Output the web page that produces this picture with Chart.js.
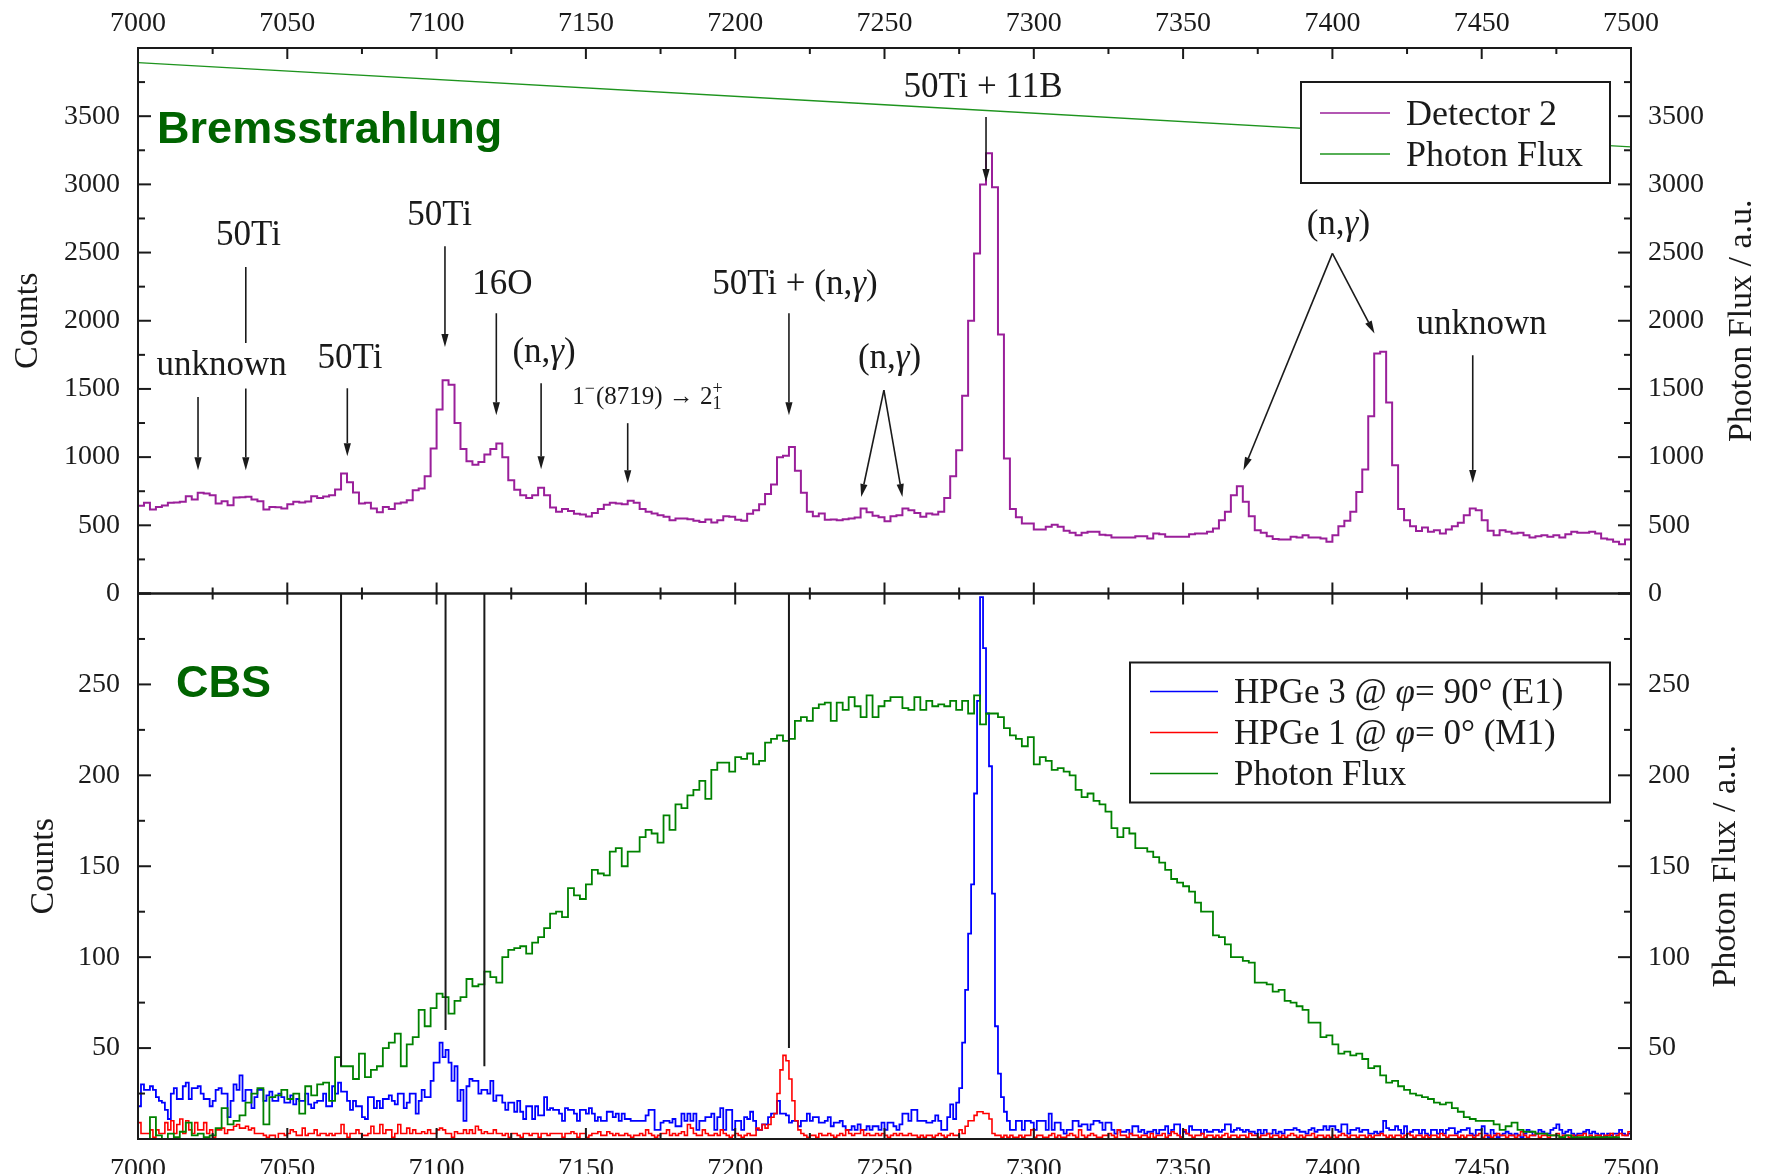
<!DOCTYPE html>
<html><head><meta charset="utf-8">
<script src="https://cdn.jsdelivr.net/npm/chart.js@4.4.1/dist/chart.umd.min.js"></script>
<style>html,body{margin:0;padding:0;background:#fff;overflow:hidden}canvas{display:block}</style>
</head><body>
<canvas id="c" width="1767" height="1174"></canvas>
<script>
// ---------- axes ----------
const E_MIN = 7000, E_MAX = 7500;
const X_TICKS = [7000,7050,7100,7150,7200,7250,7300,7350,7400,7450,7500];
const TOP_Y_TICKS = [0,500,1000,1500,2000,2500,3000,3500];
const BOT_Y_TICKS = [50,100,150,200,250];
const TOP_Y_MAX = 4000, BOT_Y_MAX = 300;

// ---------- Bremsstrahlung panel ----------
const DET2_BIN = 2; // keV per bin
const detector2 = [
643,665,616,635,645,665,668,672,714,690,
738,733,720,660,677,648,704,706,709,690,
677,616,635,632,623,655,672,668,675,714,
700,712,721,763,880,815,740,660,665,623,
595,635,620,660,668,684,758,770,860,1063,
1350,1564,1530,1250,1060,970,945,965,1020,1060,
1100,1000,830,760,720,700,720,775,720,630,
600,620,605,585,580,565,590,620,650,665,
660,655,680,665,620,599,587,574,562,538,
550,550,545,533,525,543,520,538,567,562,
540,533,585,611,655,730,800,1000,1010,1075,
900,738,599,567,587,540,543,538,545,550,
557,623,595,570,560,530,567,574,623,611,
590,562,587,580,599,700,860,1050,1450,2000,
2494,3000,3229,2979,1900,990,620,560,513,513,
469,469,490,505,489,460,445,428,445,452,
452,430,428,411,411,411,411,420,420,403,
440,435,416,416,416,416,435,440,440,452,
477,538,600,721,787,672,567,464,445,420,
400,396,396,416,411,428,411,411,403,379,
428,494,533,599,745,909,1300,1760,1772,1400,
941,620,538,494,459,484,452,464,440,469,
494,518,574,623,610,538,460,428,464,452,
440,445,428,411,420,428,416,428,411,435,
452,445,445,452,440,403,396,379,362,396];
const fluxTopEnergy = [7000, 7250, 7500];
const fluxTopValue  = [3893, 3584, 3275];

// ---------- CBS panel ----------
const CBS_BIN = 1; // keV per bin
const hpge3 = [
18,30,27,27,29,27,23,21,20,16,
11,25,28,22,22,29,31,22,28,28,
29,25,22,22,18,21,27,28,25,25,
12,21,30,27,35,21,27,27,17,23,
27,27,21,24,26,21,21,25,23,20,
20,24,19,22,21,21,25,19,17,20,
21,21,25,18,18,29,25,31,26,26,
21,16,21,18,18,12,11,23,23,17,
21,17,22,22,24,21,19,25,25,17,
20,25,25,14,21,27,23,23,32,42,
42,53,45,49,42,32,40,21,27,10,
29,33,32,32,25,27,27,25,32,21,
24,24,20,16,20,20,15,21,15,11,
18,18,11,18,13,13,23,16,17,16,
16,14,10,17,16,16,14,10,16,16,
14,17,14,10,12,10,10,15,15,12,
14,10,14,11,11,10,10,10,10,10,
13,16,16,5,5,9,10,10,9,11,
7,7,14,10,14,10,14,5,10,10,
12,12,14,5,12,17,5,16,16,5,
10,10,5,12,11,15,10,5,5,8,
8,12,14,14,21,14,14,13,9,10,
10,7,10,10,14,10,12,12,9,9,
10,12,7,9,9,10,7,5,5,7,
5,8,5,5,7,5,7,7,5,9,
5,9,9,7,5,8,14,14,10,16,
16,10,10,10,9,9,10,13,10,5,
5,12,19,11,20,28,53,82,113,140,
190,241,298,270,234,205,135,62,36,23,
15,10,5,5,10,10,5,10,10,9,
5,10,10,10,5,14,5,9,9,5,
3,5,5,10,10,7,8,8,5,8,
10,10,9,5,9,9,5,3,5,4,
4,5,3,7,7,4,5,3,4,4,
5,3,5,5,7,3,5,8,8,1,
4,3,7,5,5,5,3,5,4,4,
5,5,4,5,8,8,4,5,6,5,
4,5,4,4,3,5,3,5,3,3,
5,3,4,3,5,5,5,6,5,4,
4,3,5,6,4,5,5,7,5,7,
7,5,4,8,8,3,5,5,6,4,
5,5,3,3,4,3,4,10,6,5,
5,7,5,3,7,3,4,5,5,3,
5,3,2,5,5,3,5,3,5,6,
6,3,4,5,5,6,3,2,5,5,
7,3,1,5,3,1,2,3,4,3,
2,3,2,1,3,5,4,2,3,5,
4,3,3,5,6,8,5,3,4,5,
3,2,3,3,4,5,3,4,3,2,
3,1,3,2,3,3,5,3,2,3];
const hpge1 = [
9,3,3,3,5,1,5,3,3,9,
5,10,3,8,11,3,10,5,3,9,
5,5,9,3,5,1,5,5,6,3,
5,5,7,8,6,6,7,5,6,3,
3,3,2,1,2,2,0,3,3,2,
3,5,4,2,2,6,2,3,3,5,
2,3,3,2,3,2,3,3,8,3,
1,3,3,5,3,2,2,3,7,3,
3,8,3,5,5,1,3,8,3,3,
6,3,5,3,3,4,3,5,3,3,
5,6,5,3,3,1,4,3,3,5,
3,5,3,7,5,3,4,3,3,5,
3,3,2,3,1,3,3,2,1,3,
3,2,3,3,1,3,3,2,3,3,
3,3,1,3,3,4,3,1,3,3,
1,2,3,3,4,2,2,4,3,2,
3,2,2,3,2,1,2,2,3,2,
5,3,2,1,2,3,3,5,2,3,
2,3,4,2,8,6,3,2,2,5,
3,2,2,3,2,5,3,2,1,2,
3,2,1,2,3,2,2,6,5,8,
6,8,12,14,25,38,46,43,33,21,
10,5,3,2,1,2,2,1,3,2,
2,3,2,1,2,3,2,5,3,2,
3,3,5,2,3,2,2,3,2,3,
2,1,2,3,2,3,2,2,3,2,
2,1,2,1,2,2,1,2,3,2,
1,2,3,2,2,5,3,7,10,10,
13,15,15,14,14,11,3,2,2,1,
2,1,2,1,1,2,1,2,2,5,
1,2,2,1,1,2,3,1,2,1,
1,2,3,2,1,5,2,1,2,3,
2,1,1,2,2,3,2,1,5,2,
2,1,3,2,2,1,2,2,1,3,
1,2,2,3,1,2,4,3,2,1,
5,3,2,1,2,2,3,1,2,2,
1,2,1,2,3,1,2,2,1,2,
2,1,3,2,2,1,2,2,3,1,
2,2,1,2,1,2,3,2,1,2,
1,2,2,3,1,2,2,1,2,1,
2,1,2,3,2,1,2,2,1,2,
2,1,2,1,2,2,3,2,1,2,
1,2,2,1,2,3,2,1,2,2,
1,2,1,2,2,1,3,2,1,2,
2,2,1,2,1,2,2,1,2,3,
1,2,2,1,2,3,2,2,1,2,
2,1,2,4,2,1,2,2,3,1,
2,2,1,2,2,3,1,2,2,1,
2,1,2,2,3,1,2,1,2,2,
1,2,2,3,1,2,3,2,2,4];
const FLUX_BIN = 2; // keV per bin
const fluxCBS = [
0,0,12,2,0,3,1,4,9,2,
3,1,2,6,17,8,10,13,20,25,
28,8,23,24,27,22,25,14,29,24,
30,31,21,45,40,40,33,47,34,38,
40,50,53,58,40,52,56,71,62,72,
80,78,69,76,78,88,84,85,92,89,
86,100,104,105,106,102,108,111,116,124,
125,122,138,134,132,140,148,146,145,158,
160,150,158,158,166,170,168,163,178,170,
184,182,189,192,197,187,203,207,207,202,
210,209,212,206,208,218,220,222,219,220,
230,232,230,237,239,240,230,240,236,243,
238,232,244,232,238,241,243,243,237,236,
243,236,241,238,239,238,241,236,241,234,
244,228,234,234,232,226,222,220,216,221,
206,210,208,203,204,202,200,192,188,190,
186,184,180,171,166,171,168,160,160,158,
155,152,148,143,141,139,136,130,125,125,
112,111,107,100,100,98,97,86,86,85,
81,82,76,75,73,71,64,64,56,57,
52,47,48,46,47,44,39,40,35,31,
32,29,27,25,24,23,22,20,19,20,
17,15,12,11,10,10,10,8,5,7,
9,5,4,4,3,3,2,2,1,2,
1,1,1,1,1,1,1,1,0,0];

// ---------- annotations (energy keV, counts) ----------
const labelText   = ['unknown','50Ti','50Ti','50Ti','16O','(n,γ)','1^{−}(8719) → 2_{1}^{+}','50Ti + (n,γ)','(n,γ)','50Ti + 11B','(n,γ)','unknown'];
const labelEnergy = [7028, 7037, 7071, 7101, 7122, 7136, 7170.8, 7220, 7251.7, 7283, 7402, 7450];
const labelCounts = [1600, 2554, 1650, 2701, 2199, 1698, 1390, 2199, 1650, 3641, 2639, 1906];
const labelSize   = [35, 35, 35, 35, 35, 35, 25, 35, 35, 35, 35, 35];
const arrowFrom = [[7020.1,1441],[7036.1,1503],[7070.1,1505],[7102.8,2546],[7120,2055],[7135,1541],[7164,1249],[7218,2055],[7249.8,1491],[7249.8,1491],[7284,3494],[7400,2494],[7400,2494],[7447,1747]];
const arrowTo   = [[7020.1,904],[7036.1,904],[7070.1,1007],[7102.8,1808],[7120,1307],[7135,911],[7164,809],[7218,1307],[7242.2,708],[7256,708],[7284,3018],[7370.2,904],[7414.1,1906],[7447,811]];
const plainFrom = [[7036.1,2394]];
const plainTo   = [[7036.1,1837]];
const cbsLineEnergy = [7068, 7103, 7116, 7218];
const cbsLineEnd    = [40, 60, 40, 50];
const panelTitles = ['Bremsstrahlung', 'CBS'];
const panelTitleEnergy = [7006.4, 7012.7];
const panelTitleCounts = [3301, 243];

// ---------- helpers ----------
const SERIF = '"Liberation Serif","Times New Roman",serif';
const SANS = '"Liberation Sans",Arial,sans-serif';
const INK = '#1a1a1a';

function histPoints(values, start, width) {
  const pts = values.map((v, i) => ({x: start + i * width, y: v}));
  pts.push({x: start + values.length * width, y: values[values.length - 1]});
  return pts;
}
function seg(ctx, x1, y1, x2, y2) { ctx.beginPath(); ctx.moveTo(x1, y1); ctx.lineTo(x2, y2); ctx.stroke(); }
function arrow(ctx, x1, y1, x2, y2) {
  const a = Math.atan2(y2 - y1, x2 - x1), L = 13, W = 3.6;
  const bx = x2 - L * Math.cos(a), by = y2 - L * Math.sin(a);
  seg(ctx, x1, y1, bx, by);
  ctx.beginPath();
  ctx.moveTo(x2, y2);
  ctx.lineTo(bx + W * Math.sin(a), by - W * Math.cos(a));
  ctx.lineTo(bx - W * Math.sin(a), by + W * Math.cos(a));
  ctx.closePath(); ctx.fill();
}
function parseRich(s) {
  const out = []; let i = 0, buf = '';
  while (i < s.length) {
    const ch = s[i];
    if ((ch === '^' || ch === '_') && s[i + 1] === '{') {
      if (buf) { out.push({t: buf}); buf = ''; }
      const end = s.indexOf('}', i);
      const content = s.slice(i + 2, end);
      const kind = ch === '^' ? 'sup' : 'sub';
      const prev = out[out.length - 1];
      if (prev && prev.t === undefined && prev[kind] === undefined) prev[kind] = content;
      else { const o = {}; o[kind] = content; out.push(o); }
      i = end + 1;
    } else { buf += ch; i++; }
  }
  if (buf) out.push({t: buf});
  return out;
}
function drawRich(ctx, s, x, y, size, align) {
  const runs = [];
  const small = Math.round(size * 0.7);
  for (const tk of parseRich(s)) {
    if (tk.t !== undefined) {
      for (const part of tk.t.split(/([γφ])/)) {
        if (!part) continue;
        runs.push({text: part, font: (/[γφ]/.test(part) ? 'italic ' : '') + size + 'px ' + SERIF});
      }
    } else {
      const items = [];
      if (tk.sup !== undefined) items.push({text: tk.sup, font: small + 'px ' + SERIF, dy: -size * 0.4});
      if (tk.sub !== undefined) items.push({text: tk.sub, font: small + 'px ' + SERIF, dy: size * 0.22});
      runs.push({items});
    }
  }
  let total = 0;
  for (const r of runs) {
    if (r.items) r.w = Math.max(...r.items.map(it => { ctx.font = it.font; return ctx.measureText(it.text).width; })) + 1;
    else { ctx.font = r.font; r.w = ctx.measureText(r.text).width; }
    total += r.w;
  }
  let cx = align === 'center' ? x - total / 2 : x;
  ctx.textAlign = 'left'; ctx.textBaseline = 'alphabetic';
  for (const r of runs) {
    if (r.items) for (const it of r.items) { ctx.font = it.font; ctx.fillText(it.text, cx, y + it.dy); }
    else { ctx.font = r.font; ctx.fillText(r.text, cx, y); }
    cx += r.w;
  }
}
function drawLegend(ctx, chart, idxs, left, top, w, h, lineX0, lineX1, textX, rowY0, rowDy, size) {
  ctx.fillStyle = '#fff'; ctx.fillRect(left, top, w, h);
  ctx.strokeStyle = INK; ctx.lineWidth = 2; ctx.strokeRect(left, top, w, h);
  idxs.forEach((di, k) => {
    const ds = chart.data.datasets[di];
    const yy = top + rowY0 + k * rowDy;
    ctx.strokeStyle = ds.borderColor; ctx.lineWidth = 1.6;
    seg(ctx, left + lineX0, yy, left + lineX1, yy);
    ctx.fillStyle = INK;
    drawRich(ctx, ds.label, left + textX, yy + size * 0.33, size, 'left');
  });
}

const overlay = {
  id: 'overlay',
  afterDatasetsDraw(chart) {
    const ctx = chart.ctx, sc = chart.scales;
    const x = sc.x, yT = sc.yTop, yB = sc.yBot;
    const L = x.left, R = x.right;
    ctx.save();
    // CBS reference lines
    ctx.strokeStyle = INK; ctx.lineWidth = 2;
    cbsLineEnergy.forEach((e, i) => {
      const px = x.getPixelForValue(e);
      seg(ctx, px, yB.getPixelForValue(BOT_Y_MAX), px, yB.getPixelForValue(cbsLineEnd[i]));
    });
    // arrows
    ctx.lineWidth = 1.6; ctx.fillStyle = INK; ctx.strokeStyle = INK;
    arrowFrom.forEach((f, i) => {
      const t = arrowTo[i];
      arrow(ctx, x.getPixelForValue(f[0]), yT.getPixelForValue(f[1]), x.getPixelForValue(t[0]), yT.getPixelForValue(t[1]));
    });
    plainFrom.forEach((f, i) => {
      const t = plainTo[i];
      seg(ctx, x.getPixelForValue(f[0]), yT.getPixelForValue(f[1]), x.getPixelForValue(t[0]), yT.getPixelForValue(t[1]));
    });
    // labels
    ctx.fillStyle = INK;
    labelText.forEach((s, i) => drawRich(ctx, s, x.getPixelForValue(labelEnergy[i]), yT.getPixelForValue(labelCounts[i]), labelSize[i], 'center'));
    // panel titles
    ctx.fillStyle = '#006400'; ctx.font = 'bold 45px ' + SANS; ctx.textAlign = 'left'; ctx.textBaseline = 'alphabetic';
    ctx.fillText(panelTitles[0], x.getPixelForValue(panelTitleEnergy[0]), yT.getPixelForValue(panelTitleCounts[0]));
    ctx.fillText(panelTitles[1], x.getPixelForValue(panelTitleEnergy[1]), yB.getPixelForValue(panelTitleCounts[1]));
    // legends
    drawLegend(ctx, chart, [0, 1], R - 330, yT.top + 34, 309, 101, 19, 89, 105, 31, 41, 36);
    drawLegend(ctx, chart, [2, 3, 4], R - 501, yB.top + 69, 480, 140, 20, 88, 104, 29, 41, 35);
    // frames
    ctx.strokeStyle = INK; ctx.lineWidth = 2;
    ctx.strokeRect(L, yT.top, R - L, yT.bottom - yT.top);
    ctx.strokeRect(L, yB.top, R - L, yB.bottom - yB.top);
    // x ticks
    const xStep = X_TICKS[1] - X_TICKS[0];
    for (let v = X_TICKS[0]; v <= X_TICKS[X_TICKS.length - 1]; v += xStep / 2) {
      const px = x.getPixelForValue(v);
      const len = ((v - X_TICKS[0]) % xStep === 0) ? 11 : 6;
      seg(ctx, px, yT.top, px, yT.top + len);
      seg(ctx, px, yT.bottom - len, px, yT.bottom + len);
      seg(ctx, px, yB.bottom - len, px, yB.bottom);
    }
    // y ticks
    const yTicks = (scale, arr, max) => {
      const step = arr[1] - arr[0];
      for (let v = 0; v <= max; v += step / 2) {
        const py = scale.getPixelForValue(v);
        const len = (v % step === 0) ? 13 : 7;
        seg(ctx, L, py, L + len, py);
        seg(ctx, R - len, py, R, py);
      }
    };
    yTicks(yT, TOP_Y_TICKS, TOP_Y_MAX);
    yTicks(yB, BOT_Y_TICKS, BOT_Y_MAX);
    // right axis titles (reading bottom to top)
    ctx.fillStyle = INK; ctx.font = '34px ' + SERIF; ctx.textAlign = 'center'; ctx.textBaseline = 'middle';
    [[yT, 111], [yB, 95]].forEach(([s, dx]) => {
      ctx.save();
      ctx.translate(R + dx, (s.top + s.bottom) / 2);
      ctx.rotate(-Math.PI / 2);
      ctx.fillText('Photon Flux / a.u.', 0, 0);
      ctx.restore();
    });
    ctx.restore();
  }
};

const tickFont = {family: SERIF, size: 28};
function xAxis(pos, h, pad) {
  return {
    type: 'linear', position: pos, min: E_MIN, max: E_MAX,
    grid: {display: false, drawTicks: false}, border: {display: false},
    afterBuildTicks: s => { s.ticks = X_TICKS.map(v => ({value: v})); },
    afterFit: s => { s.height = h; },
    ticks: {font: tickFont, color: INK, padding: pad, maxRotation: 0, autoSkip: false, callback: v => String(v)}
  };
}
function yAxis(pos, stack, max, arr, w, pad, title, titlePad) {
  return {
    type: 'linear', position: pos, stack: stack, stackWeight: 1, min: 0, max: max,
    grid: {display: false, drawTicks: false}, border: {display: false},
    afterBuildTicks: s => { s.ticks = arr.map(v => ({value: v})); },
    afterFit: s => { s.width = w; },
    ticks: {font: tickFont, color: INK, padding: pad, callback: v => String(v)},
    title: title ? {display: true, text: title, font: {family: SERIF, size: 34}, color: INK, padding: {top: titlePad, bottom: 0}} : {display: false}
  };
}

new Chart(document.getElementById('c'), {
  type: 'line',
  data: {
    datasets: [
      {label: 'Detector 2', data: histPoints(detector2, E_MIN, DET2_BIN), xAxisID: 'x', yAxisID: 'yTop',
       borderColor: '#9a1f9a', borderWidth: 2, stepped: 'before', pointRadius: 0, fill: false, order: 2},
      {label: 'Photon Flux', data: fluxTopEnergy.map((e, i) => ({x: e, y: fluxTopValue[i]})), xAxisID: 'x', yAxisID: 'yTop',
       borderColor: '#1e941e', borderWidth: 1.3, pointRadius: 0, fill: false, order: 1},
      {label: 'HPGe 3 @ φ= 90° (E1)', data: histPoints(hpge3, E_MIN, CBS_BIN), xAxisID: 'x', yAxisID: 'yBot',
       borderColor: '#0000ff', borderWidth: 1.8, stepped: 'before', pointRadius: 0, fill: false, order: 5},
      {label: 'HPGe 1 @ φ= 0° (M1)', data: histPoints(hpge1, E_MIN, CBS_BIN), xAxisID: 'x', yAxisID: 'yBot',
       borderColor: '#ff0000', borderWidth: 1.6, stepped: 'before', pointRadius: 0, fill: false, order: 4},
      {label: 'Photon Flux', data: histPoints(fluxCBS, E_MIN, FLUX_BIN), xAxisID: 'x', yAxisID: 'yBot',
       borderColor: '#008200', borderWidth: 1.8, stepped: 'before', pointRadius: 0, fill: false, order: 3}
    ]
  },
  options: {
    responsive: false, animation: false, devicePixelRatio: 1, events: [],
    layout: {padding: 0},
    plugins: {legend: {display: false}, tooltip: {enabled: false}},
    scales: {
      xTop: xAxis('top', 48, 8),
      x: xAxis('bottom', 35, 14),
      // left boxes are laid out in reverse order, so the lower panel axis is listed first
      yBot: yAxis('left', 'L', BOT_Y_MAX, BOT_Y_TICKS, 138, 18, 'Counts', 24),
      yTop: yAxis('left', 'L', TOP_Y_MAX, TOP_Y_TICKS, 138, 18, 'Counts', 8),
      yTopR: yAxis('right', 'R', TOP_Y_MAX, TOP_Y_TICKS, 136, 17, null, 0),
      yBotR: yAxis('right', 'R', BOT_Y_MAX, BOT_Y_TICKS, 136, 17, null, 0)
    }
  },
  plugins: [overlay]
});
</script>
</body></html>
